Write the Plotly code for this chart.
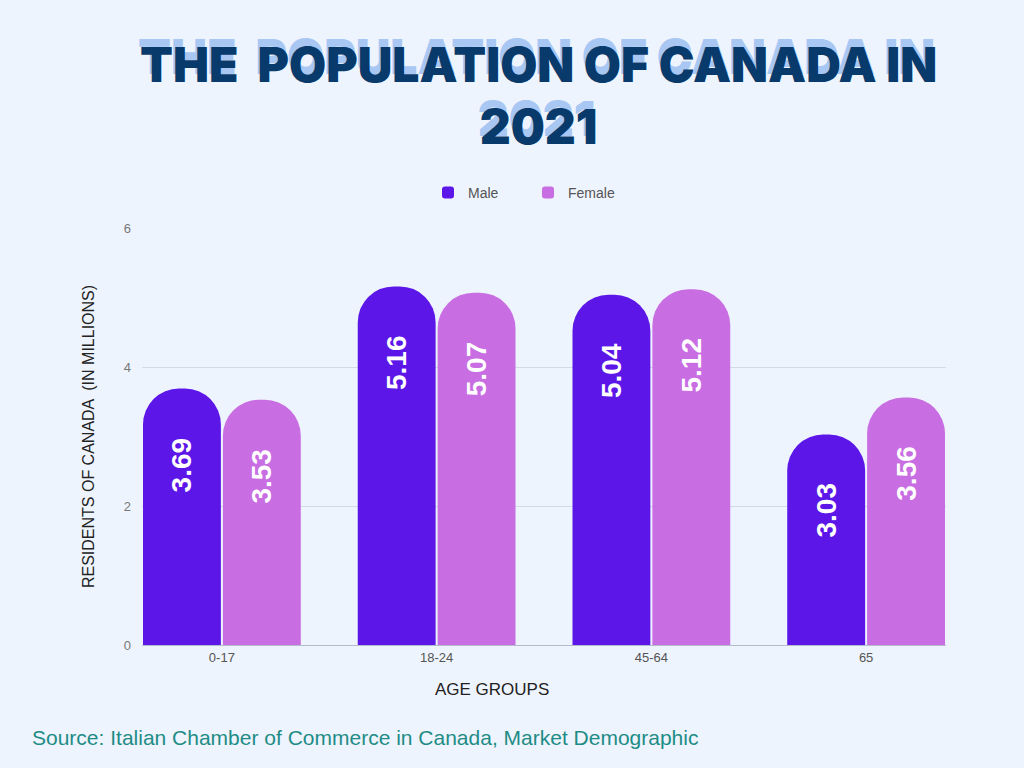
import plotly.graph_objects as go

categories = ["0-17", "18-24", "45-64", "65"]
male = [3.69, 5.16, 5.04, 3.03]
female = [3.53, 5.07, 5.12, 3.56]
series_names = ["Male", "Female"]
y_ticks = [0, 2, 4, 6]

MALE_C = "#5C17E8"
FEMALE_C = "#C86DE2"
BG = "#EEF4FD"

L, R, T, B = 142, 78, 228, 123
W, H = 1024, 768
pw, ph = W - L - R, H - T - B


def px_x(x):
    return (x - L) / pw


def px_y(y):
    return (H - B - y) / ph


fig = go.Figure()
for name, vals, col in [(series_names[0], male, MALE_C), (series_names[1], female, FEMALE_C)]:
    fig.add_trace(go.Bar(
        x=categories, y=vals, name=name,
        marker=dict(color=col, cornerradius=36, line=dict(width=0)),
        hoverinfo="skip",
    ))

annotations = []
# value labels (rotated, white, bold), positioned relative to each bar's top
for vals, shift in [(male, -40), (female, 40)]:
    for i, v in enumerate(vals):
        annotations.append(dict(
            x=i, y=v, xref="x", yref="y", text=f"{v:.2f}", showarrow=False,
            textangle=-90, xshift=shift, yshift=-76,
            font=dict(family="Liberation Sans", size=28, color="white", weight="bold"),
        ))

title_lines = "THE  POPULATION OF CANADA IN<br>2021"
annotations.append(dict(
    x=px_x(538), y=px_y(95), xref="paper", yref="paper", text=title_lines, showarrow=False,
    xanchor="center", yanchor="middle", align="center",
    font=dict(family="Inter", size=48, weight=900, color="#083A6B",
              shadow="-2px -8px 0px #A9C7F3"),
))
annotations.append(dict(
    x=px_x(492), y=px_y(689), xref="paper", yref="paper", text="AGE GROUPS", showarrow=False,
    xanchor="center", yanchor="middle",
    font=dict(family="Liberation Sans", size=17, color="#222222"),
))
annotations.append(dict(
    x=px_x(30), y=px_y(737), xref="paper", yref="paper",
    text="Source: Italian Chamber of Commerce in Canada, Market Demographic",
    showarrow=False, xanchor="left", yanchor="middle",
    font=dict(family="Liberation Sans", size=21, color="#1E8C86"),
))

fig.update_layout(
    width=W, height=H,
    paper_bgcolor=BG, plot_bgcolor=BG,
    margin=dict(l=L, r=R, t=T, b=B),
    barmode="group", bargap=0.256, bargroupgap=0.025,
    showlegend=True,
    legend=dict(orientation="h", x=px_x(428), xanchor="left", y=px_y(193), yanchor="middle",
                entrywidth=55,
                font=dict(family="Liberation Sans", size=14, color="#555555"),
                bgcolor="rgba(0,0,0,0)"),
    xaxis=dict(
        range=[-0.372, 3.372], showgrid=False, showline=True, linecolor="#B4BCCC", linewidth=1,
        ticks="", tickfont=dict(family="Liberation Sans", size=13, color="#555555"),
        fixedrange=True,
    ),
    yaxis=dict(
        range=[0, 6], tickvals=y_ticks, showgrid=True, gridcolor="#D3DAE6", gridwidth=1,
        zeroline=False, showline=False, ticks="",
        tickfont=dict(family="Liberation Sans", size=13, color="#777777"),
        ticklabelstandoff=10,
        title=dict(text="RESIDENTS OF CANADA  (IN MILLIONS)", standoff=25,
                   font=dict(family="Liberation Sans", size=16, color="#222222")),
    ),
    annotations=annotations,
)

fig.write_html(
    "out.html",
    config={"displayModeBar": False},
    post_script="document.body.style.margin='0';document.body.style.background='%s';" % BG,
)
